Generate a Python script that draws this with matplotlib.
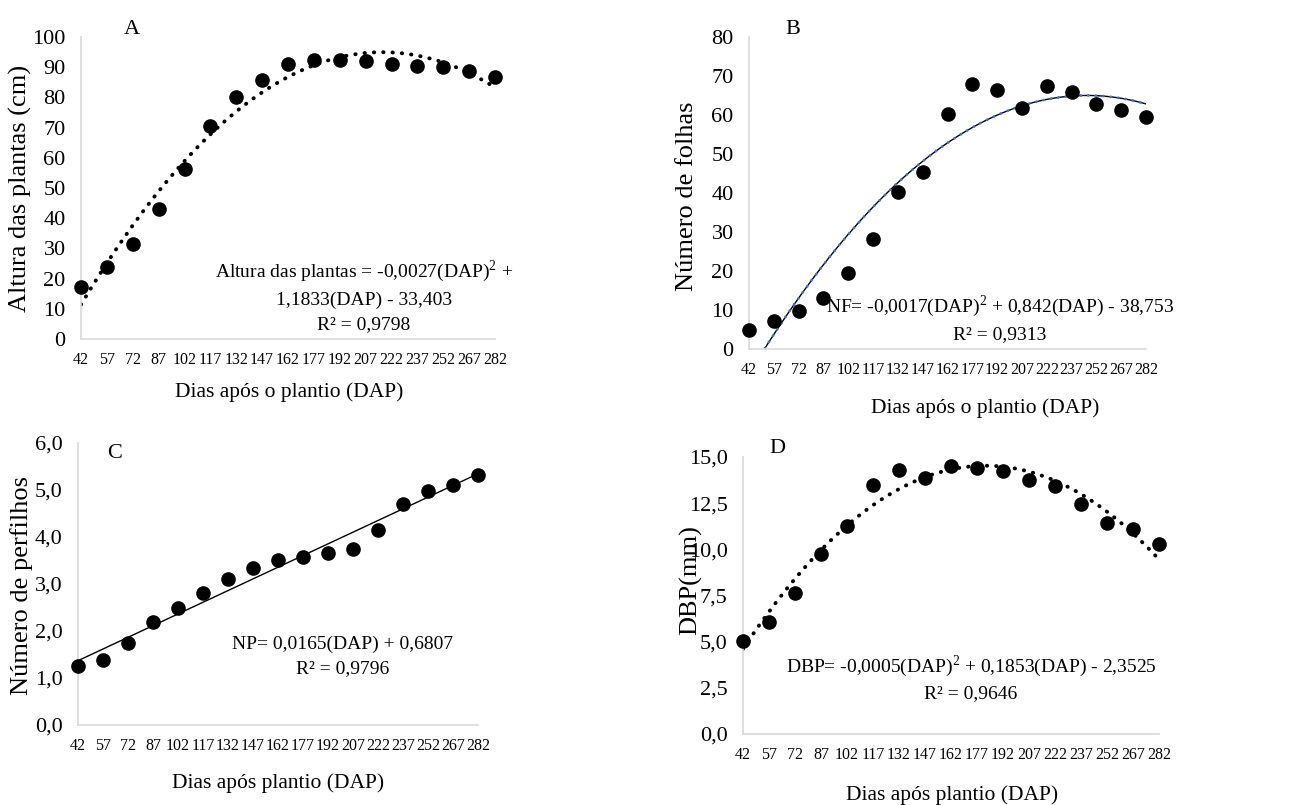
import numpy as np
import matplotlib
matplotlib.use("Agg")
import matplotlib.pyplot as plt

plt.rcParams['font.family'] = ['Liberation Serif', 'DejaVu Serif']
plt.rcParams['mathtext.fontset'] = 'custom'
plt.rcParams['mathtext.rm'] = 'Liberation Serif'

W, H = 1301, 805

# dias apos o plantio
dap = [42, 57, 72, 87, 102, 117, 132, 147, 162, 177, 192, 207, 222, 237, 252, 267, 282]

altura = [17.3, 23.9, 31.4, 43.1, 56.3, 70.6, 80.2, 85.9, 91.0, 92.5, 92.3, 92.0,
          91.0, 90.5, 90.0, 88.9, 86.9]
folhas = [4.9, 7.3, 9.8, 13.0, 19.6, 28.2, 40.3, 45.3, 60.2, 67.9, 66.3, 61.7,
          67.5, 65.8, 62.9, 61.4, 59.5]
perfilhos = [1.25, 1.38, 1.75, 2.19, 2.49, 2.81, 3.10, 3.33, 3.51, 3.58, 3.67, 3.75,
             4.15, 4.71, 4.98, 5.11, 5.31]
dbp = [5.04, 6.04, 7.66, 9.73, 11.29, 13.47, 14.28, 13.87, 14.53, 14.41, 14.26, 13.74,
       13.45, 12.48, 11.40, 11.12, 10.27]

yticks_A = [0, 10, 20, 30, 40, 50, 60, 70, 80, 90, 100]
yticks_B = [0, 10, 20, 30, 40, 50, 60, 70, 80]
yticks_C = [0, 1, 2, 3, 4, 5, 6]
yticks_D = [0, 2.5, 5, 7.5, 10, 12.5, 15]

eq_A = "Altura das plantas = -0,0027(DAP)$^2$ +\n1,1833(DAP) - 33,403\nR\u00b2 = 0,9798"
eq_B = "NF= -0,0017(DAP)$^2$ + 0,842(DAP) - 38,753\nR\u00b2 = 0,9313"
eq_C = "NP= 0,0165(DAP) + 0,6807\nR\u00b2 = 0,9796"
eq_D = "DBP= -0,0005(DAP)$^2$ + 0,1853(DAP) - 2,3525\nR\u00b2 = 0,9646"

fig = plt.figure(figsize=(W / 100, H / 100), dpi=100)


def fx(px):
    return px / W


def fy(py):
    return 1 - py / H


def make_axes(l, t, r, b):
    ax = fig.add_axes([fx(l), fy(b), fx(r - l), fy(t) - fy(b)])
    for s in ['top', 'right']:
        ax.spines[s].set_visible(False)
    for s in ['left', 'bottom']:
        ax.spines[s].set_color('#d9d9d9')
        ax.spines[s].set_linewidth(1.2)
    ax.set_xlim(42, 282)
    ax.set_xticks(dap)
    ax.set_xticklabels([str(d) for d in dap], fontsize=11.5)
    ax.tick_params(axis='x', length=0, pad=9)
    ax.tick_params(axis='y', length=0, pad=11, labelsize=16)
    return ax


def comma(v, fmt):
    return (fmt % v).replace('.', ',')


xs = np.linspace(42, 282, 400)
dot = dict(ls=(0, (0.1, 2.3)), lw=2.8, dash_capstyle='round', color='black')
mk = dict(marker='o', ls='none', color='black', ms=9.5, clip_on=False, zorder=3)
EQ = 14
XL = 15.5
YL = 19

# A
axA = make_axes(81, 37, 495, 339)
axA.set_ylim(0, 100)
axA.set_yticks(yticks_A)
cA = np.polyfit(dap, altura, 2)
axA.plot(xs, np.polyval(cA, xs), **dot)
axA.plot(dap, altura, **mk)
fig.text(fx(364), fy(296), eq_A, fontsize=EQ, ha='center', va='center',
         multialignment='center', linespacing=1.55)
fig.text(fx(132), fy(30), "A", fontsize=16, ha='center', va='center')
fig.text(fx(20), fy(188), "Altura das plantas (cm)", fontsize=YL, rotation=90,
         ha='center', va='center')
fig.text(fx(289), fy(392), "Dias após o plantio (DAP)", fontsize=XL,
         ha='center', va='center')

# B
axB = make_axes(749, 37, 1146, 349)
axB.set_ylim(0, 80)
axB.set_yticks(yticks_B)
cB = np.polyfit(dap, folhas, 2)
axB.plot(xs, np.polyval(cB, xs), color='black', lw=1)
axB.plot(xs, np.polyval(cB, xs), ls=(0, (0.1, 2.6)), lw=2.0, dash_capstyle='round',
         color='#4472c4')
axB.plot(dap, folhas, **mk)
fig.text(fx(1000), fy(318), eq_B, fontsize=EQ, ha='center', va='center',
         multialignment='center', linespacing=1.55)
fig.text(fx(793), fy(29), "B", fontsize=16, ha='center', va='center')
fig.text(fx(687), fy(196), "Número de folhas", fontsize=YL, rotation=90,
         ha='center', va='center')
fig.text(fx(985), fy(408), "Dias após o plantio (DAP)", fontsize=XL,
         ha='center', va='center')

# C
axC = make_axes(78, 443, 478, 725)
axC.set_ylim(0, 6)
axC.set_yticks(yticks_C)
axC.set_yticklabels([comma(v, '%.1f') for v in yticks_C])
cC = np.polyfit(dap, perfilhos, 1)
axC.plot(xs, np.polyval(cC, xs), color='black', lw=1)
axC.plot(dap, perfilhos, **mk)
fig.text(fx(343), fy(656), eq_C, fontsize=EQ, ha='center', va='center',
         multialignment='center', linespacing=1.55)
fig.text(fx(115), fy(453), "C", fontsize=16, ha='center', va='center')
fig.text(fx(22), fy(585), "Número de perfilhos", fontsize=YL, rotation=90,
         ha='center', va='center')
fig.text(fx(278), fy(783), "Dias após plantio (DAP)", fontsize=XL,
         ha='center', va='center')

# D
axD = make_axes(743, 457, 1159, 734)
axD.set_ylim(0, 15)
axD.set_yticks(yticks_D)
axD.set_yticklabels([comma(v, '%.1f') for v in yticks_D])
cD = np.polyfit(dap, dbp, 2)
axD.plot(xs, np.polyval(cD, xs), **dot)
axD.plot(dap, dbp, **mk)
fig.text(fx(971), fy(678), eq_D, fontsize=EQ, ha='center', va='center',
         multialignment='center', linespacing=1.45)
fig.text(fx(777), fy(448), "D", fontsize=16, ha='center', va='center')
fig.text(fx(691), fy(580), "DBP(mm)", fontsize=YL, rotation=90,
         ha='center', va='center')
fig.text(fx(952), fy(795), "Dias após plantio (DAP)", fontsize=XL,
         ha='center', va='center')

fig.savefig("out.png", dpi=100)
